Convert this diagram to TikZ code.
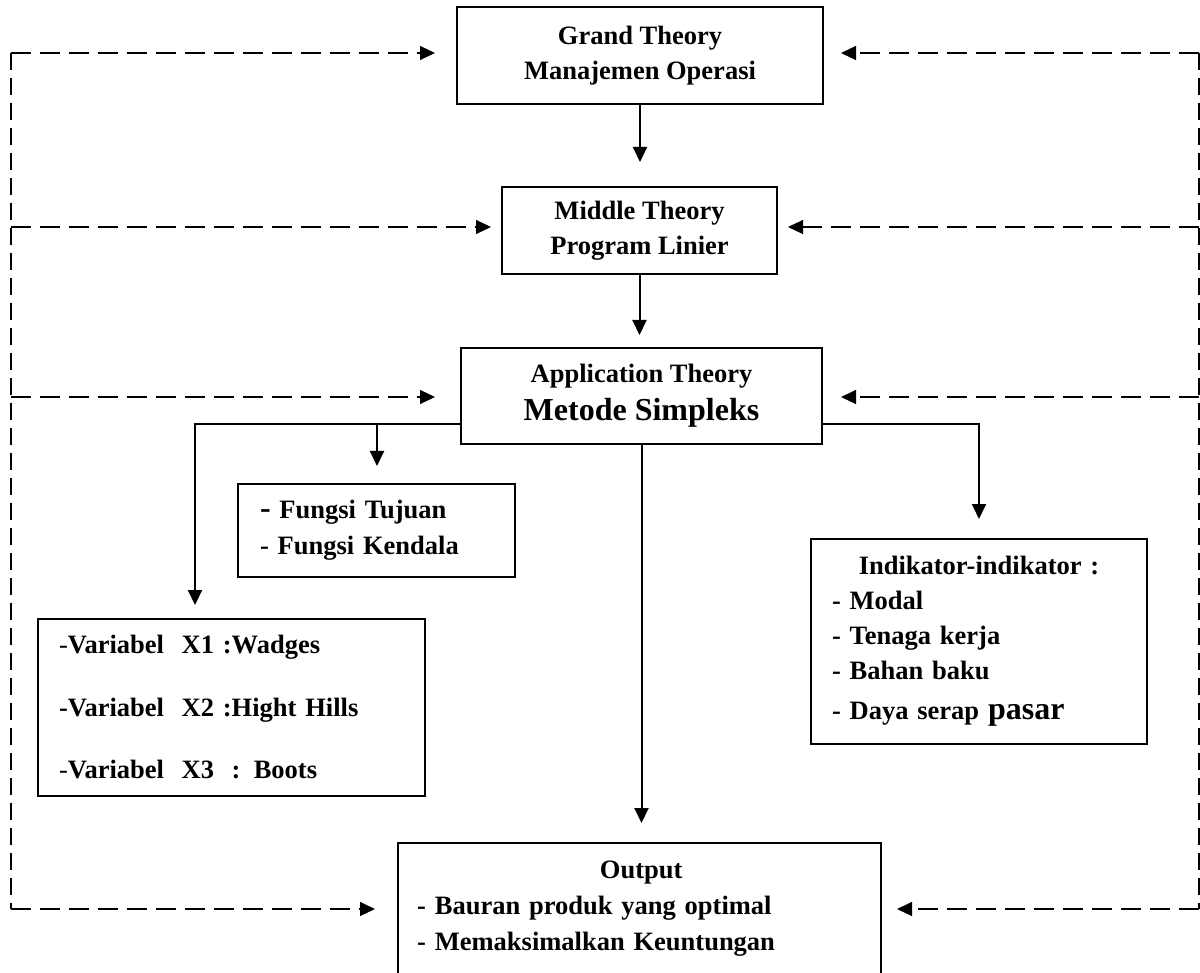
\documentclass[tikz,border=0pt]{standalone}
\usepackage{fontspec}
\setmainfont{Liberation Serif}
\usetikzlibrary{arrows.meta}
\begin{document}
\begin{tikzpicture}[x=1pt,y=1pt,
  txt/.style={inner sep=0pt,font=\fontsize{26.5}{35}\selectfont\bfseries},
  box/.style={txt,draw,line width=2pt},
  arr/.style={line width=2pt,-{Triangle[length=15pt,width=14pt]}},
  dsh/.style={line width=2pt,dash pattern=on 17pt off 8pt},
  darr/.style={line width=2.5pt,dash pattern=on 20pt off 9pt,-{Triangle[length=15pt,width=14pt,line width=1pt]}}]
\useasboundingbox (0,0) rectangle (1200,-973);
\clip (0,0) rectangle (1200,-973);

\node[box,minimum width=366pt,minimum height=97pt,align=center] (grand) at (640,-55.5) {Grand Theory\\Manajemen Operasi};
\node[box,minimum width=275pt,minimum height=87pt,align=center] (middle) at (639.5,-230.5) {Middle Theory\\Program Linier};
\node[box,minimum width=361pt,minimum height=96pt,align=center] (app) at (641.5,-396) {Application Theory\\[3pt]{\fontsize{32}{38}\selectfont Metode Simpleks}};
\node[box,minimum width=277pt,minimum height=93pt,text width=233pt,inner xsep=22pt,align=left,font=\fontsize{26.5}{36}\selectfont\bfseries] (fungsi) at (376.5,-530.5) {{\fontsize{32}{36}\selectfont -} Fungsi Tujuan\\- Fungsi Kendala};
\node[box,minimum width=387pt,minimum height=177pt,text width=345pt,inner xsep=21pt,align=left,font=\fontsize{26.5}{62.5}\selectfont\bfseries] (var) at (231.5,-707.5) {\textmd{-}Variabel\ \ X1 :Wadges\\-Variabel\ \ X2 :Hight Hills\\\textmd{-}Variabel\ \ X3\ \ : Boots};
\node[box,minimum width=336pt,minimum height=205pt,text width=294pt,inner xsep=21pt,align=left] (ind) at (979,-641.5) {\makebox[294pt]{Indikator-indikator :}\\- Modal\\- Tenaga kerja\\- Bahan baku\\[5pt]- Daya serap {\fontsize{32}{38}\selectfont pasar}};
\node[draw,line width=2pt,minimum width=483pt,minimum height=200pt,anchor=north west,inner sep=0pt] (outbox) at (397,-842) {};
\node[txt,anchor=north west,text width=448pt,align=left,font=\fontsize{26.5}{36}\selectfont\bfseries] (outtxt) at (417,-861) {\makebox[448pt]{Output}\\- Bauran produk yang optimal\\- Memaksimalkan Keuntungan};

\draw[arr,shorten >=24pt] (grand.south) -- (grand.south |- middle.north);
\draw[arr,shorten >=12pt] (middle.south) -- (middle.south |- app.north);
\draw[arr,shorten >=19pt] (app.south) -- (app.south |- outbox.north);
\coordinate (jv) at (195,-424);
\coordinate (jf) at (377,-424);
\coordinate (ji) at (979,-424);
\draw[arr,shorten >=13pt] (app.west |- jv) -- (jv) -- (jv |- var.north);
\draw[arr,shorten >=17pt] (jf) -- (jf |- fungsi.north);
\draw[arr,shorten >=19pt] (app.east |- ji) -- (ji) -- (ji |- ind.north);

\coordinate (L1) at (10.7,-53);
\coordinate (L2) at (10.7,-227);
\coordinate (L3) at (10.7,-397);
\coordinate (L4) at (10.7,-909);
\coordinate (R1) at (1198.8,-53);
\coordinate (R2) at (1198.8,-227);
\coordinate (R3) at (1198.8,-397);
\coordinate (R4) at (1198.8,-909);
\draw[dsh] (L1) -- (L4);
\draw[dsh] (R1) -- (R4);
\draw[darr,shorten >=21pt] (L1) -- (L1 -| grand.west);
\draw[darr,shorten >=10pt] (L2) -- (L2 -| middle.west);
\draw[darr,shorten >=25pt] (L3) -- (L3 -| app.west);
\draw[darr,shorten >=22pt] (L4) -- (L4 -| outbox.west);
\draw[darr,shorten >=17pt] (R1) -- (R1 -| grand.east);
\draw[darr,shorten >=10pt] (R2) -- (R2 -| middle.east);
\draw[darr,shorten >=18pt] (R3) -- (R3 -| app.east);
\draw[darr,shorten >=15pt] (R4) -- (R4 -| outbox.east);
\end{tikzpicture}
\end{document}
